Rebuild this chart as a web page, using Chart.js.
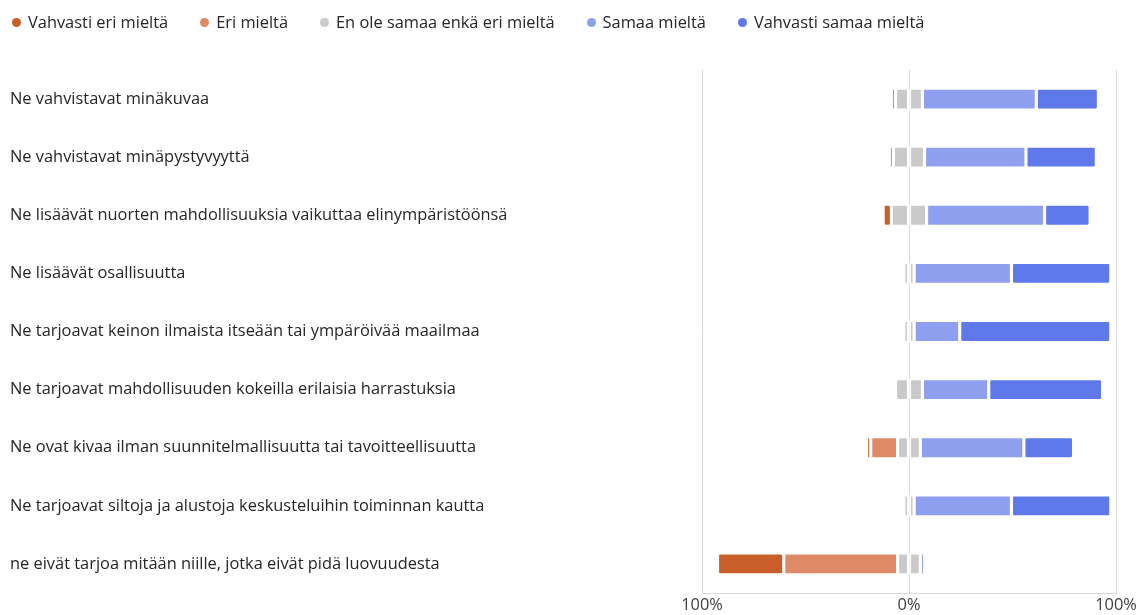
<!DOCTYPE html>
<html>
<head>
<meta charset="utf-8">
<script src="https://cdn.jsdelivr.net/npm/chart.js@4/dist/chart.umd.min.js"></script>
<style>
  html, body { margin: 0; padding: 0; background: #fff; }
  #wrap { position: relative; width: 1146px; height: 615px; }
  #legend { position: absolute; left: 12px; top: 11px; display: flex; font: 16.4px "Open Sans", sans-serif; color: #262626; line-height: 22px; }
  #legend .item { display: flex; align-items: center; margin-right: 32px; white-space: nowrap; }
  #legend .dot { width: 9px; height: 9px; border-radius: 50%; margin-right: 7px; }
</style>
</head>
<body>
<div id="wrap">
  <div id="legend"></div>
  <canvas id="c" width="1146" height="615"></canvas>
</div>
<script>
// Likert answers per statement, percent of respondents
const statements = [
  "Ne vahvistavat minäkuvaa",
  "Ne vahvistavat minäpystyvyyttä",
  "Ne lisäävät nuorten mahdollisuuksia vaikuttaa elinympäristöönsä",
  "Ne lisäävät osallisuutta",
  "Ne tarjoavat keinon ilmaista itseään tai ympäröivää maailmaa",
  "Ne tarjoavat mahdollisuuden kokeilla erilaisia harrastuksia",
  "Ne ovat kivaa ilman suunnitelmallisuutta tai tavoitteellisuutta",
  "Ne tarjoavat siltoja ja alustoja keskusteluihin toiminnan kautta",
  "ne eivät tarjoa mitään niille, jotka eivät pidä luovuudesta"
];
const vahvastiEri   = [0, 0, 4, 0, 0, 0, 2, 0, 32];
const eri           = [2, 2, 0, 0, 0, 0, 13, 0, 55];
const neutraali     = [13, 15, 17, 5, 5, 13, 11, 5, 11];
const samaa         = [55, 49, 57, 47, 22, 32, 50, 47, 2];
const vahvastiSamaa = [30, 34, 22, 48, 73, 55, 24, 48, 0];
const xTicks = [-100, 0, 100];

const labelsFi = ["Vahvasti eri mieltä", "Eri mieltä", "En ole samaa enkä eri mieltä", "Samaa mieltä", "Vahvasti samaa mieltä"];
const colors = ["#c85f2a", "#de8a66", "#cacaca", "#8f9ff0", "#5f78ea"];

// legend (html, same order as the survey scale)
const legendHost = document.getElementById("legend");
labelsFi.forEach((l, i) => {
  const it = document.createElement("div");
  it.className = "item";
  it.innerHTML = `<span class="dot" style="background:${colors[i]}"></span>${l}`;
  legendHost.appendChild(it);
});

const neg = (arr) => arr.map(v => -v);
const half = (arr, s) => arr.map(v => s * v / 2);

const barStyle = { borderColor: "#fff", borderWidth: 1.9, borderSkipped: false, borderRadius: 3, barThickness: 22, stack: "s" };

// stacking order: from zero outwards on each side
const datasets = [
  { label: labelsFi[2], data: half(neutraali, -1), backgroundColor: colors[2], ...barStyle },
  { label: labelsFi[1], data: neg(eri), backgroundColor: colors[1], ...barStyle },
  { label: labelsFi[0], data: neg(vahvastiEri), backgroundColor: colors[0], ...barStyle },
  { label: labelsFi[2] + " ", data: half(neutraali, 1), backgroundColor: colors[2], ...barStyle },
  { label: labelsFi[3], data: samaa, backgroundColor: colors[3], ...barStyle },
  { label: labelsFi[4], data: vahvastiSamaa, backgroundColor: colors[4], ...barStyle },
];

const FONT = "'Open Sans', sans-serif";

new Chart(document.getElementById("c"), {
  type: "bar",
  data: { labels: statements, datasets },
  options: {
    responsive: false,
    animation: false,
    indexAxis: "y",
    layout: { padding: { left: 10, right: 30, top: 70, bottom: 0 } },
    plugins: { legend: { display: false }, tooltip: { enabled: false } },
    scales: {
      x: {
        stacked: true,
        min: -100, max: 100,
        afterBuildTicks: (s) => { s.ticks = xTicks.map(v => ({ value: v })); },
        afterFit: (s) => { s.height = 22; },
        grid: { color: "#d9d9d9", lineWidth: 1, drawTicks: false },
        border: { display: true, color: "#d9d9d9" },
        ticks: { padding: 2, color: "#404040", font: { family: FONT, size: 16.4 }, callback: (v) => Math.abs(v) + "%" },
      },
      y: {
        stacked: true,
        afterFit: (s) => { s.width = 692; },
        grid: { display: false, drawTicks: false },
        border: { display: false },
        ticks: { crossAlign: "far", padding: 0, color: "#262626", font: { family: FONT, size: 16.4 } },
      },
    },
  },
});
</script>
</body>
</html>
